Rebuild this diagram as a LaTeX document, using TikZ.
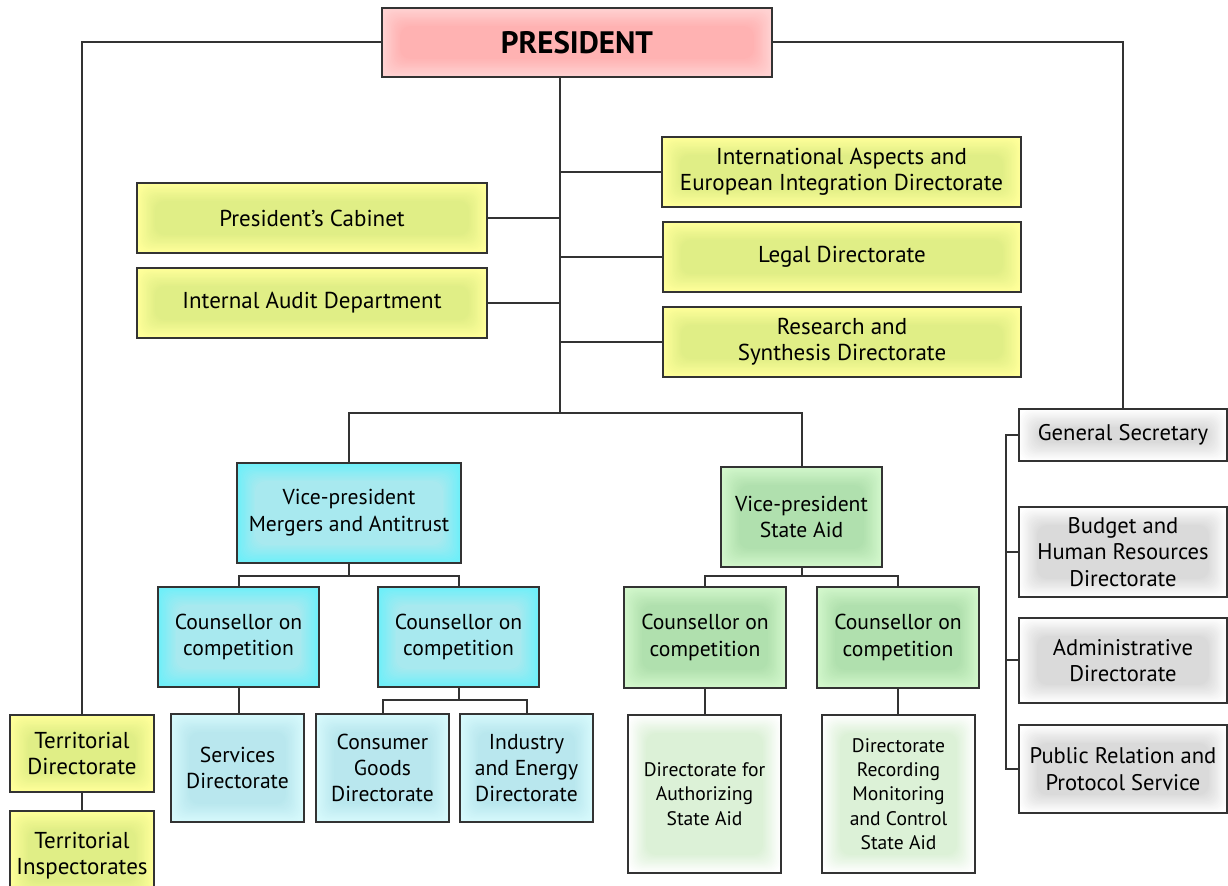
\documentclass[tikz,border=0pt]{standalone}
\usepackage{fontspec}
\setmainfont{PT Sans}
\usetikzlibrary{backgrounds}
\definecolor{bordc}{HTML}{333333}
\definecolor{presO}{HTML}{FFD2D2}
\definecolor{presI}{HTML}{FFB2B2}
\definecolor{yelO}{HTML}{FFFF9A}
\definecolor{yelI}{HTML}{E0EE86}
\definecolor{cyO}{HTML}{6FEFF9}
\definecolor{cyI}{HTML}{A8E9EF}
\definecolor{lcyO}{HTML}{D6F9FC}
\definecolor{lcyI}{HTML}{B9E7EE}
\definecolor{grO}{HTML}{D2F7CB}
\definecolor{grI}{HTML}{B0E0AE}
\definecolor{lgrO}{HTML}{FFFFFF}
\definecolor{lgrI}{HTML}{DCF1D7}
\definecolor{gyO}{HTML}{FFFFFF}
\definecolor{gyI}{HTML}{DADADA}
\begin{document}
\begin{tikzpicture}[x=0.5pt,y=-0.5pt,
  box/.style={draw=bordc, line width=1pt, inner sep=0pt, align=center,
    font=\fontsize{11.5}{13}\selectfont},
  glow/.style 2 args={fill=#1, path picture={
    \foreach \k in {1,...,14}{
      \pgfmathtruncatemacro\m{\k*100/14}
      \fill[#2!\m!#1, rounded corners=5pt]
        ([shift={(\k*0.65pt,\k*0.65pt)}]path picture bounding box.south west) rectangle
        ([shift={(-\k*0.65pt,-\k*0.65pt)}]path picture bounding box.north east);}}},
  presbox/.style={box, glow={presO}{presI}, font=\fontsize{15.5}{18}\selectfont\bfseries},
  yelbox/.style={box, glow={yelO}{yelI}},
  cybox/.style={box, glow={cyO}{cyI}, font=\fontsize{10.8}{13.4}\selectfont},
  lcybox/.style={box, glow={lcyO}{lcyI}, font=\fontsize{10.8}{13.2}\selectfont},
  grbox/.style={box, glow={grO}{grI}, font=\fontsize{10.8}{13.4}\selectfont},
  lgrbox/.style={box, glow={lgrO}{lgrI}, font=\fontsize{9.8}{12.2}\selectfont},
  gybox/.style={box, glow={gyO}{gyI}, font=\fontsize{11.3}{13.2}\selectfont},
  conn/.style={draw=bordc, line width=1pt}
]
\clip (0,0) rectangle (1228,886);

\node[presbox, minimum width=195pt, minimum height=34.5pt] (pres) at (577,42.5) {PRESIDENT};

\node[yelbox, minimum width=179.5pt, minimum height=35pt] (intl) at (841.5,172) {International Aspects and\\European Integration Directorate};
\node[yelbox, minimum width=179pt, minimum height=35pt] (legal) at (842,257) {Legal Directorate};
\node[yelbox, minimum width=179pt, minimum height=35pt] (research) at (842,342) {Research and\\Synthesis Directorate};
\node[yelbox, minimum width=175pt, minimum height=35pt] (cabinet) at (312,218) {President’s Cabinet};
\node[yelbox, minimum width=175pt, minimum height=35pt] (audit) at (312,303) {Internal Audit Department};

\node[cybox, minimum width=112pt, minimum height=50pt] (vpm) at (349,513) {Vice-president\\Mergers and Antitrust};
\node[grbox, minimum width=80.5pt, minimum height=50pt] (vps) at (801.5,517) {Vice-president\\State Aid};

\node[cybox, minimum width=80.5pt, minimum height=50pt] (c1) at (238.5,637) {Counsellor on\\competition};
\node[cybox, minimum width=80.5pt, minimum height=50pt] (c2) at (458.5,637) {Counsellor on\\competition};
\node[grbox, minimum width=81pt, minimum height=50.5pt] (c3) at (705,637.5) {Counsellor on\\competition};
\node[grbox, minimum width=81pt, minimum height=50.5pt] (c4) at (898,637.5) {Counsellor on\\competition};

\node[lcybox, minimum width=66.5pt, minimum height=54pt] (serv) at (237.5,768) {Services\\Directorate};
\node[lcybox, minimum width=66.5pt, minimum height=54pt] (cons) at (382.5,768) {Consumer\\Goods\\Directorate};
\node[lcybox, minimum width=66.5pt, minimum height=54pt] (ind) at (526.5,768) {Industry\\and Energy\\Directorate};

\node[lgrbox, minimum width=76.5pt, minimum height=79pt] (auth) at (704.5,794) {Directorate for\\Authorizing\\State Aid};
\node[lgrbox, minimum width=76.5pt, minimum height=79pt] (rec) at (898.5,794) {Directorate\\Recording\\Monitoring\\and Control\\State Aid};

\node[gybox, minimum width=104pt, minimum height=26pt] (gen) at (1123,435) {General Secretary};
\node[gybox, minimum width=104pt, minimum height=45pt] (budget) at (1123,552) {Budget and\\Human Resources\\Directorate};
\node[gybox, minimum width=104pt, minimum height=42.5pt] (admin) at (1123,660.5) {Administrative\\Directorate};
\node[gybox, minimum width=104pt, minimum height=44pt] (pub) at (1123,769) {Public Relation and\\Protocol Service};

\node[yelbox, minimum width=72pt, minimum height=38.5pt] (terr) at (82,753.5) {Territorial\\Directorate};
\node[yelbox, minimum width=72pt, minimum height=44.5pt] (insp) at (82,855.5) {Territorial\\Inspectorates};

\coordinate (trunk) at (560,413);
\coordinate (mbus) at (349,576);
\coordinate (cbus) at (458.5,700);
\coordinate (sbus) at (801.5,576);
\coordinate (bracket) at (1006,435);

\begin{scope}[on background layer]
  \fill[white] (0,0) rectangle (1228,886);
  \draw[conn] (pres.west) -| (terr.north);
  \draw[conn] (pres.east) -| (gen.north);
  \draw[conn] (pres.south -| trunk) -- (trunk);
  \draw[conn] (intl.west) -- (intl.west -| trunk);
  \draw[conn] (legal.west) -- (legal.west -| trunk);
  \draw[conn] (research.west) -- (research.west -| trunk);
  \draw[conn] (cabinet.east) -- (cabinet.east -| trunk);
  \draw[conn] (audit.east) -- (audit.east -| trunk);
  \draw[conn] (vpm.north) |- (trunk) -| (vps.north);
  \draw[conn] (vpm.south) -- (mbus);
  \draw[conn] (c1.north) |- (mbus) -| (c2.north);
  \draw[conn] (c1.south) -- (c1.south |- serv.north);
  \draw[conn] (c2.south) -- (cbus);
  \draw[conn] (cons.north) |- (cbus) -| (ind.north);
  \draw[conn] (vps.south) -- (sbus);
  \draw[conn] (c3.north) |- (sbus) -| (c4.north);
  \draw[conn] (c3.south) -- (c3.south |- auth.north);
  \draw[conn] (c4.south) -- (c4.south |- rec.north);
  \draw[conn] (terr.south) -- (insp.north);
  \draw[conn] (gen.west) -- (bracket) -- (bracket |- pub.west) -- (pub.west);
  \draw[conn] (budget.west) -- (budget.west -| bracket);
  \draw[conn] (admin.west) -- (admin.west -| bracket);
\end{scope}
\end{tikzpicture}
\end{document}
